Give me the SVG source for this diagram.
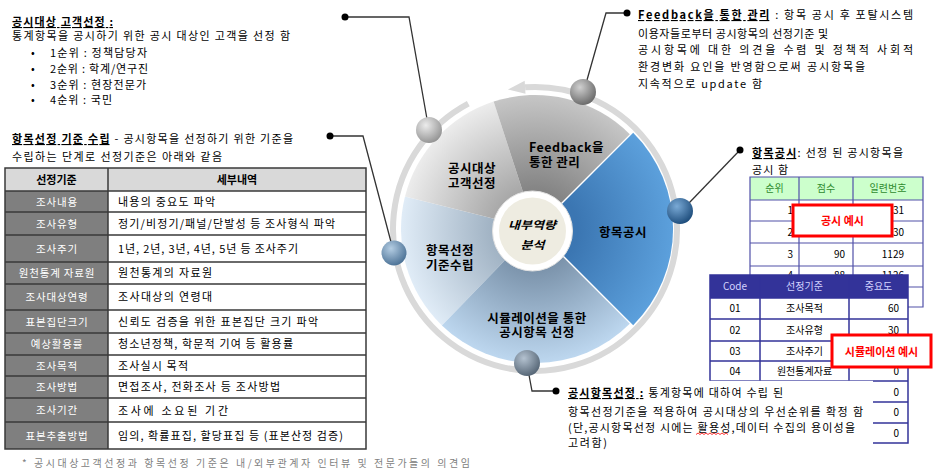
<svg xmlns="http://www.w3.org/2000/svg" width="933" height="469" viewBox="0 0 933 469">
<style>
.t{font-family:"Noto Sans CJK KR","Liberation Sans",sans-serif;font-size:11px;fill:#000}
.b{font-weight:bold}
.u{text-decoration:underline}
.lc{font-size:10.5px;fill:#fff;text-anchor:middle;letter-spacing:0.8px}
.hd{font-weight:bold;text-anchor:middle}
.sec{font-size:12.5px;font-weight:bold;text-anchor:middle;letter-spacing:0.5px}
.s10{font-size:10px}
.mid{text-anchor:middle}
.end{text-anchor:end}
.grid{fill:none;stroke:#3a3a3a;stroke-width:1.5}
.rgrid{fill:none;stroke:#5050a8;stroke-width:1.2}
.sgrid{fill:none;stroke:#333399;stroke-width:1.5}
.conn{fill:none;stroke:#333;stroke-width:1.3}
.dot{fill:#000}
.redbox{fill:#fff;stroke:#ff0000;stroke-width:3}
.redt{fill:#ff0000;font-weight:bold}
</style>
<defs>
<radialGradient id="gCust" gradientUnits="userSpaceOnUse" cx="535" cy="229" r="134"><stop offset="0.3" stop-color="#a8a8a8"/><stop offset="1" stop-color="#ececec"/></radialGradient>
<radialGradient id="gFeed" gradientUnits="userSpaceOnUse" cx="535" cy="229" r="134"><stop offset="0.3" stop-color="#858585"/><stop offset="1" stop-color="#c6c6c6"/></radialGradient>
<radialGradient id="gDisc" gradientUnits="userSpaceOnUse" cx="537" cy="229" r="136"><stop offset="0.3" stop-color="#3b76b2"/><stop offset="1" stop-color="#5ca0dc"/></radialGradient>
<radialGradient id="gSim" gradientUnits="userSpaceOnUse" cx="535" cy="229" r="134"><stop offset="0.3" stop-color="#7b93ab"/><stop offset="1" stop-color="#bdd7ef"/></radialGradient>
<radialGradient id="gCrit" gradientUnits="userSpaceOnUse" cx="535" cy="229" r="134"><stop offset="0.3" stop-color="#9fb1c2"/><stop offset="1" stop-color="#e0ecf7"/></radialGradient>
<radialGradient id="bGray1" cx="0.38" cy="0.32" r="0.7"><stop offset="0" stop-color="#ececec"/><stop offset="1" stop-color="#949494"/></radialGradient>
<radialGradient id="bGray2" cx="0.38" cy="0.32" r="0.7"><stop offset="0" stop-color="#d0d0d0"/><stop offset="1" stop-color="#6a6a6a"/></radialGradient>
<radialGradient id="bBlue" cx="0.38" cy="0.32" r="0.7"><stop offset="0" stop-color="#7aaad6"/><stop offset="1" stop-color="#1e4d7c"/></radialGradient>
<radialGradient id="bLBlue" cx="0.38" cy="0.32" r="0.7"><stop offset="0" stop-color="#b4cde3"/><stop offset="1" stop-color="#4c7296"/></radialGradient>
<radialGradient id="bSlate" cx="0.38" cy="0.32" r="0.7"><stop offset="0" stop-color="#b4c2d0"/><stop offset="1" stop-color="#566676"/></radialGradient>
</defs>

<rect width="933" height="469" fill="#fff"/>

<!-- circular arrow ring -->
<g id="ring">
<path d="M468.3,103.6 A142,142 0 1 0 525.1,87.3" fill="none" stroke="#d9d9d9" stroke-width="6"/>
<polygon points="507.9,89.6 524.7,80.8 525.5,93.8" fill="#d9d9d9"/>
</g>

<!-- sectors -->
<g id="sector-criteria">
<path d="M535,229 L441.9,325.4 A134,134 0 0 1 405.0,196.6 Z" fill="url(#gCrit)"/>
<text class="t sec" x="450" y="254.5">항목선정</text>
<text class="t sec" x="450" y="269.5">기준수립</text>
</g>
<g id="sector-customers">
<path d="M535,229 L405.0,196.6 A134,134 0 0 1 493.6,101.6 Z" fill="url(#gCust)"/>
<text class="t sec" x="472" y="173">공시대상</text>
<text class="t sec" x="472" y="187.5">고객선정</text>
</g>
<g id="sector-feedback">
<path d="M535,229 L493.6,101.6 A134,134 0 0 1 629.8,134.2 Z" fill="url(#gFeed)"/>
<text class="t sec" x="529" y="152" style="text-anchor:start">Feedback을</text>
<text class="t sec" x="529" y="166.5" style="text-anchor:start">통한 관리</text>
</g>
<g id="sector-disclosure">
<path d="M537,229 L633.2,132.8 A136,136 0 0 1 633.2,325.2 Z" fill="url(#gDisc)"/>
<text class="t sec" x="623" y="237">항목공시</text>
</g>
<g id="sector-simulation">
<path d="M535,229 L629.8,323.8 A134,134 0 0 1 441.9,325.4 Z" fill="url(#gSim)"/>
<text class="t sec" x="537" y="322.5">시뮬레이션을 통한</text>
<text class="t sec" x="537" y="337">공시항목 선정</text>
</g>

<g id="center">
<circle cx="532.5" cy="231" r="40" fill="#fff" stroke="#e2e2e2" stroke-width="1"/>
<circle cx="532.5" cy="231" r="33.5" fill="#eeece1"/>
<text class="t" x="532" y="229" font-size="15" font-weight="bold" font-style="italic" text-anchor="middle" textLength="48" lengthAdjust="spacingAndGlyphs">내부역량</text>
<text class="t" x="532.5" y="248.5" font-size="15" font-weight="bold" font-style="italic" text-anchor="middle" textLength="24" lengthAdjust="spacingAndGlyphs">분석</text>
</g>

<!-- connectors -->
<g id="connectors">
<polyline class="conn" points="345,17 409,17 427,119"/>
<polyline class="conn" points="330,136 363,136 391,242"/>
<polyline class="conn" points="587,80 606,13 627,13"/>
<polyline class="conn" points="689,203 740,150"/>
<polyline class="conn" points="529,375 532,391 556,391"/>
<circle class="dot" cx="345" cy="17" r="3.5"/>
<circle class="dot" cx="330" cy="136" r="3.5"/>
<circle class="dot" cx="627" cy="13" r="3.5"/>
<circle class="dot" cx="740" cy="150" r="3.5"/>
<circle class="dot" cx="556" cy="391" r="3.5"/>
</g>

<g id="ball-customers"><circle cx="429" cy="130" r="13" fill="url(#bGray1)"/></g>
<g id="ball-feedback"><circle cx="583" cy="92" r="13" fill="url(#bGray2)"/></g>
<g id="ball-disclosure"><circle cx="680" cy="211" r="13" fill="url(#bBlue)"/></g>
<g id="ball-criteria"><circle cx="394" cy="253" r="12.5" fill="url(#bLBlue)"/></g>
<g id="ball-simulation"><circle cx="527" cy="363" r="13" fill="url(#bSlate)"/></g>

<!-- customers note -->
<g id="note-customers">
<text class="t b u" x="12" y="26" textLength="101" lengthAdjust="spacing">공시대상 고객선정 :</text>
<text class="t" x="12" y="40" textLength="278" lengthAdjust="spacing">통계항목을 공시하기 위한 공시 대상인 고객을 선정 함</text>
<text class="t" x="31" y="57">•</text><text class="t" x="50" y="57" textLength="97" lengthAdjust="spacing">1순위 : 정책담당자</text>
<text class="t" x="31" y="73">•</text><text class="t" x="50" y="73" textLength="98" lengthAdjust="spacing">2순위 : 학계/연구진</text>
<text class="t" x="31" y="89">•</text><text class="t" x="50" y="89" textLength="96" lengthAdjust="spacing">3순위 : 현장전문가</text>
<text class="t" x="31" y="104">•</text><text class="t" x="50" y="104" textLength="62" lengthAdjust="spacing">4순위 : 국민</text>
</g>

<!-- criteria note and table -->
<g id="note-criteria">
<text class="t" x="12" y="143" textLength="281" lengthAdjust="spacing"><tspan class="b u">항목선정 기준 수립</tspan> - 공시항목을 선정하기 위한 기준을</text>
<text class="t" x="12" y="161" textLength="210" lengthAdjust="spacing">수립하는 단계로 선정기준은 아래와 같음</text>
<rect x="5" y="168" width="361" height="281" fill="#fff"/>
<rect x="5" y="168" width="361" height="23" fill="#d9d9d9"/>
<rect x="5" y="191" width="103" height="258" fill="#7f7f7f"/>
<path class="grid" d="M5,168H366V449H5Z M5,191H366 M5,212H366 M5,235H366 M5,262H366 M5,284H366 M5,310H366 M5,333H366 M5,355H366 M5,376H366 M5,398H366 M5,422H366 M108,168V449"/>
<text class="t hd" x="56.5" y="183.5">선정기준</text>
<text class="t hd" x="237" y="183.5">세부내역</text>
<text class="t lc" x="57" y="205.5">조사내용</text>
<text class="t lc" x="57" y="227.5">조사유형</text>
<text class="t lc" x="57" y="252.5">조사주기</text>
<text class="t lc" x="57" y="277">원천통계 자료원</text>
<text class="t lc" x="57" y="301">조사대상연령</text>
<text class="t lc" x="57" y="325.5">표본집단크기</text>
<text class="t lc" x="57" y="348">예상활용률</text>
<text class="t lc" x="57" y="369.5">조사목적</text>
<text class="t lc" x="57" y="391">조사방법</text>
<text class="t lc" x="57" y="414">조사기간</text>
<text class="t lc" x="57" y="439.5">표본추출방법</text>
<text class="t" x="118" y="205.5" textLength="97" lengthAdjust="spacing">내용의 중요도 파악</text>
<text class="t" x="118" y="227.5" textLength="217" lengthAdjust="spacing">정기/비정기/패널/단발성 등 조사형식 파악</text>
<text class="t" x="118" y="252.5" textLength="180" lengthAdjust="spacing">1년, 2년, 3년, 4년, 5년 등 조사주기</text>
<text class="t" x="118" y="277" textLength="94" lengthAdjust="spacing">원천통계의 자료원</text>
<text class="t" x="118" y="301" textLength="94" lengthAdjust="spacing">조사대상의 연령대</text>
<text class="t" x="118" y="325.5" textLength="200" lengthAdjust="spacing">신뢰도 검증을 위한 표본집단 크기 파악</text>
<text class="t" x="118" y="348" textLength="175" lengthAdjust="spacing">청소년정책, 학문적 기여 등 활용률</text>
<text class="t" x="118" y="369.5" textLength="70" lengthAdjust="spacing">조사실시 목적</text>
<text class="t" x="118" y="391" textLength="162" lengthAdjust="spacing">면접조사, 전화조사 등 조사방법</text>
<text class="t" x="118" y="414.5" font-size="12" textLength="110" lengthAdjust="spacing">조사에 소요된 기간</text>
<text class="t" x="118" y="439.5" textLength="225" lengthAdjust="spacing">임의, 확률표집, 할당표집 등 (표본산정 검증)</text>
</g>

<g id="footnote">
<text class="t s10" x="22" y="467" style="fill:#808080" textLength="448" lengthAdjust="spacing">* 공시대상고객선정과 항목선정 기준은 내/외부관계자 인터뷰 및 전문가들의 의견임</text>
</g>

<!-- feedback note -->
<g id="note-feedback">
<text class="t" x="638" y="19" textLength="275" lengthAdjust="spacing"><tspan class="b u">Feedback을 통한 관리</tspan> : 항목 공시 후 포탈시스템</text>
<text class="t" x="638" y="37.5" textLength="190" lengthAdjust="spacing">이용자들로부터 공시항목의 선정기준 및</text>
<text class="t" x="638" y="54" textLength="275" lengthAdjust="spacing">공시항목에 대한 의견을 수렴 및 정책적 사회적</text>
<text class="t" x="638" y="71" textLength="227" lengthAdjust="spacing">환경변화 요인을 반영함으로써 공시항목을</text>
<text class="t" x="638" y="87.5" textLength="124" lengthAdjust="spacing">지속적으로 update 함</text>
</g>

<!-- disclosure note and ranking table -->
<g id="note-disclosure">
<text class="t" x="752" y="157" textLength="151" lengthAdjust="spacing"><tspan class="b u">항목공시</tspan>: 선정 된 공시항목을</text>
<text class="t" x="752" y="174" textLength="36" lengthAdjust="spacing">공시 함</text>
<rect x="750" y="177" width="173" height="130" fill="#fff"/>
<rect x="750" y="177" width="173" height="23" fill="#ccffcc"/>
<path class="rgrid" d="M750,177H923V307H750Z M750,200H923 M750,221H923 M750,243H923 M750,266H923 M750,287H923 M799,177V307 M853,177V307"/>
<text class="t s10 mid" x="774.5" y="192" style="fill:#2e8b2e">순위</text>
<text class="t s10 mid" x="826" y="192" style="fill:#2e8b2e">점수</text>
<text class="t s10 mid" x="888" y="192" style="fill:#2e8b2e">일련번호</text>
<text class="t s10 end" x="793" y="214">1</text><text class="t s10 end" x="904" y="214">1131</text>
<text class="t s10 end" x="793" y="235.5">2</text><text class="t s10 end" x="904" y="235.5">1130</text>
<text class="t s10 end" x="793" y="258">3</text><text class="t s10 end" x="845" y="258">90</text><text class="t s10 end" x="904" y="258">1129</text>
<text class="t s10 end" x="793" y="279">4</text><text class="t s10 end" x="845" y="279">88</text><text class="t s10 end" x="904" y="279">1126</text>
<rect class="redbox" x="793" y="205" width="99" height="31"/>
<text class="t redt mid" x="842.5" y="224.5" font-size="12.5">공시 예시</text>
</g>

<!-- simulation table -->
<g id="sim-table">
<rect x="710" y="275" width="198" height="168" fill="#fff"/>
<rect x="710" y="275" width="198" height="23" fill="#333399"/>
<path class="sgrid" d="M710,275H908V443H710Z M710,298H908 M710,319H908 M710,341H908 M710,361H908 M710,381H908 M710,402H908 M710,423H908 M760,275V443 M849,275V443"/>
<text class="t s10 mid" x="735" y="290" style="fill:#d4d4ff">Code</text>
<text class="t s10 mid" x="804.5" y="290" style="fill:#d4d4ff">선정기준</text>
<text class="t s10 mid" x="878.5" y="290" style="fill:#d4d4ff">중요도</text>
<text class="t s10 mid" x="735" y="312">01</text><text class="t s10 mid" x="804.5" y="312">조사목적</text><text class="t s10 end" x="899" y="312">60</text>
<text class="t s10 mid" x="735" y="333.5">02</text><text class="t s10 mid" x="804.5" y="333.5">조사유형</text><text class="t s10 end" x="899" y="333.5">30</text>
<text class="t s10 mid" x="735" y="354.5">03</text><text class="t s10 mid" x="804.5" y="354.5">조사주기</text>
<text class="t s10 mid" x="735" y="374.5">04</text><text class="t s10 mid" x="804.5" y="374.5">원천통계자료</text><text class="t s10 end" x="899" y="374.5">0</text>
<text class="t s10 end" x="899" y="395.5">0</text>
<text class="t s10 end" x="899" y="416">0</text>
<text class="t s10 end" x="899" y="436.5">0</text>
</g>

<!-- selection note -->
<g id="note-selection">
<rect x="562" y="380.8" width="311" height="72" fill="#fff"/>
<text class="t" x="568" y="397" textLength="215" lengthAdjust="spacing"><tspan class="b u">공시항목선정 :</tspan> 통계항목에 대하여 수립 된</text>
<text class="t" x="568" y="416" textLength="295" lengthAdjust="spacing">항목선정기준을 적용하여 공시대상의 우선순위를 확정 함</text>
<text class="t" x="568" y="432" textLength="287" lengthAdjust="spacing">(단,공시항목선정 시에는 활용성,데이터 수집의 용이성을</text>
<text class="t" x="568" y="447" textLength="39" lengthAdjust="spacing">고려함)</text>
<polyline points="696,434.5 698,433 700,434.5 702,433 704,434.5 706,433 708,434.5 710,433 712,434.5 714,433 716,434.5 718,433 720,434.5 722,433 724,434.5 726,433 728,434.5" fill="none" stroke="#ff0000" stroke-width="0.8"/>
</g>

<g id="sim-label">
<rect class="redbox" x="832" y="335" width="99" height="32"/>
<text class="t redt mid" x="881.5" y="356" font-size="13">시뮬레이션 예시</text>
</g>
</svg>
